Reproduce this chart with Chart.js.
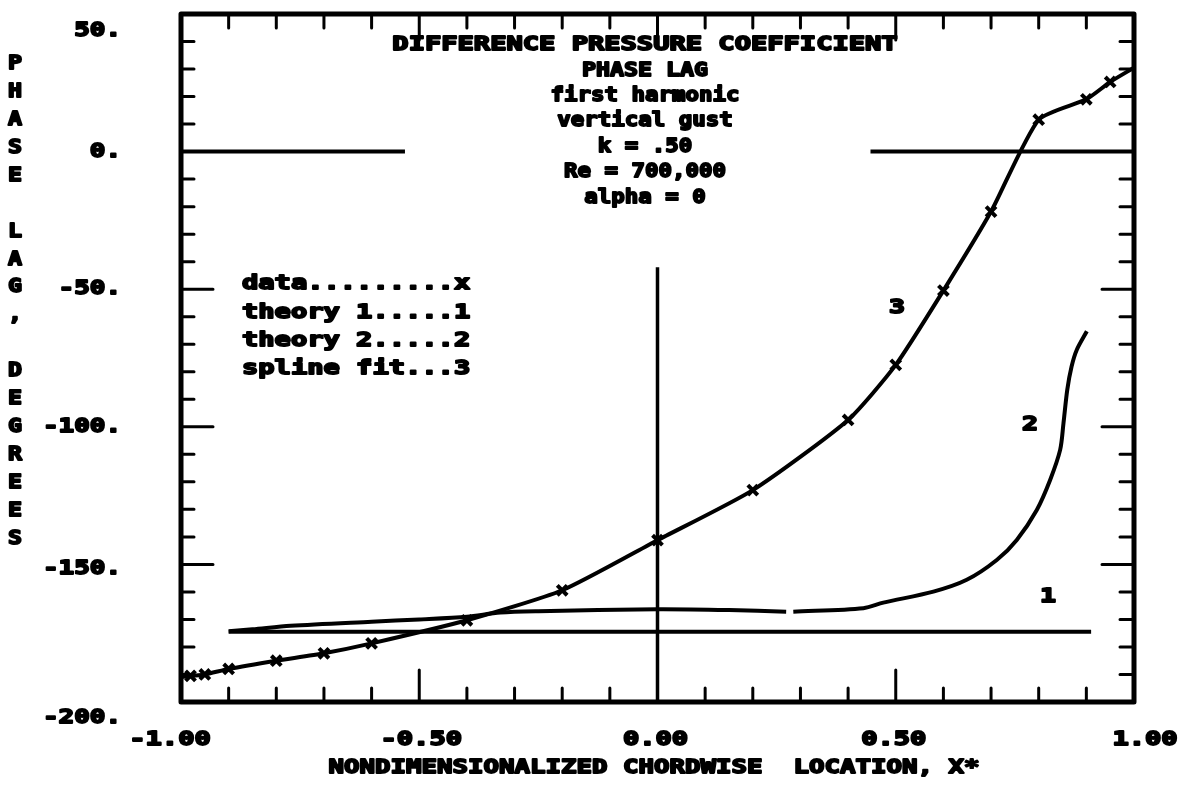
<!DOCTYPE html>
<html>
<head>
<meta charset="utf-8">
<script src="https://cdn.jsdelivr.net/npm/chart.js@4.4.0/dist/chart.umd.min.js"></script>
<style>
  html, body { margin: 0; padding: 0; background: #fff; }
</style>
</head>
<body>
<canvas id="c" width="1183" height="786"></canvas>
<script>
// measured phase lag, degrees, at chordwise stations
const dataX = [-0.98, -0.95, -0.90, -0.80, -0.70, -0.60, -0.40, -0.20, 0.00, 0.20, 0.40, 0.50, 0.60, 0.70, 0.80, 0.90, 0.95];
const dataY = [-190.5, -190.0, -188.0, -185.0, -182.3, -178.7, -170.3, -159.4, -141.2, -123.0, -97.5, -77.5, -50.5, -21.8, 11.6, 19.0, 25.3];

// spline fit, edge to edge
const splineX = [-1.00, -0.98, -0.95, -0.90, -0.80, -0.70, -0.60, -0.40, -0.20, 0.00, 0.20, 0.40, 0.50, 0.60, 0.70, 0.80, 0.90, 0.95, 1.00];
const splineY = [-191.0, -190.5, -190.0, -188.0, -185.0, -182.3, -178.7, -170.3, -159.4, -141.2, -123.0, -97.5, -77.5, -50.5, -21.8, 11.6, 19.0, 25.3, 30.5];

// theory 1: flat
const theory1X = [-0.90, 0.91];
const theory1Y = [-174.5, -174.5];

// theory 2 (pen lifted briefly near x = .28)
const theory2X = [-0.90, -0.85, -0.77, -0.60, -0.50, -0.40, -0.33, -0.25, 0.00, 0.15, 0.27, 0.278, 0.285, 0.432, 0.474, 0.579, 0.649, 0.712, 0.754, 0.796, 0.824, 0.845, 0.852, 0.860, 0.869, 0.880, 0.901];
const theory2Y = [-174.3, -173.6, -172.3, -170.8, -170.0, -169.0, -167.5, -167.0, -166.3, -166.6, -167.2, null, -167.2, -165.9, -163.9, -159.9, -155.6, -148.4, -141.1, -130.2, -119.3, -108.4, -98.7, -86.5, -78.1, -72.0, -65.3];

// reference lines: y = 0 (broken under the title) and x = 0
const zeroX = [-1.00, -0.53, 0.00, 0.447, 1.00];
const zeroY = [0, 0, null, 0, 0];
const chordX = [0.00, 0.00];
const chordY = [-200, -42];

const xTicks = [-1.0, -0.5, 0.0, 0.5, 1.0];
const xTickLabels = ["-1.00", "-0.50", "0.00", "0.50", "1.00"];
const yTicks = [50, 0, -50, -100, -150, -200];
const yTickLabels = ["50.", "0.", "-50.", "-100.", "-150.", "-200."];

const titleLines = ["DIFFERENCE PRESSURE COEFFICIENT", "PHASE LAG", "first harmonic", "vertical gust", "k = .50", "Re = 700,000", "alpha = 0"];
const legendLines = ["data.........x", "theory 1.....1", "theory 2.....2", "spline fit...3"];
const yTitle = "PHASE LAG, DEGREES";
const xTitle = "NONDIMENSIONALIZED CHORDWISE  LOCATION, X*";

const pts = (xs, ys) => xs.map((x, i) => ({ x, y: ys[i] }));
const INK = "#000";

// stretched bold mono text, like the plotter lettering
function plotText(ctx, str, x, y, adv, align) {
  ctx.save();
  ctx.font = 'bold 20px "DejaVu Sans Mono"';
  const sx = adv / ctx.measureText("M").width;
  const w = str.length * adv;
  const left = align === "center" ? x - w / 2 : align === "right" ? x - w : x;
  ctx.translate(left, y);
  ctx.scale(sx, 1);
  ctx.textAlign = "left";
  ctx.textBaseline = "middle";
  ctx.fillStyle = INK;
  ctx.strokeStyle = INK;
  ctx.lineWidth = 1.8;
  ctx.lineJoin = "round";
  ctx.fillText(str, 0, 0);
  ctx.strokeText(str, 0, 0);
  ctx.restore();
}

const frame = {
  id: "frame",
  afterDatasetsDraw(chart) {
    const { ctx, chartArea: a, scales } = chart;
    const xs = scales.x, ys = scales.y;
    ctx.save();
    ctx.strokeStyle = INK;
    ctx.lineCap = "round";
    ctx.lineJoin = "round";

    // ticks, pointing inward
    ctx.lineWidth = 3;
    ctx.beginPath();
    for (let i = -9; i <= 9; i++) {
      const px = xs.getPixelForValue(i / 10);
      const major = i % 5 === 0;
      ctx.moveTo(px, a.bottom); ctx.lineTo(px, a.bottom - (major ? 32 : 14));
      ctx.moveTo(px, a.top); ctx.lineTo(px, a.top + (major ? 26 : 14));
    }
    for (let v = -190; v <= 40; v += 10) {
      const py = ys.getPixelForValue(v);
      const major = v % 50 === 0;
      ctx.moveTo(a.left, py); ctx.lineTo(a.left + (major ? 32 : 13), py);
      ctx.moveTo(a.right, py); ctx.lineTo(a.right - (major ? 32 : 14), py);
    }
    ctx.stroke();

    // border
    ctx.lineWidth = 5;
    ctx.strokeRect(a.left, a.top, a.right - a.left, a.bottom - a.top);
    ctx.restore();

    // tick labels
    const yNudge = [17, 0, 0, 0, 4, 16];
    yTicks.forEach((v, i) => plotText(ctx, yTickLabels[i], 121, ys.getPixelForValue(v) + yNudge[i], 15.6, "right"));
    const xNudge = [-11, 2, -2, -2, 11];
    xTicks.forEach((v, i) => plotText(ctx, xTickLabels[i], xs.getPixelForValue(v) + xNudge[i], 740, 16.3, "center"));

    // axis titles
    plotText(ctx, xTitle, 654, 768, 15.5, "center");
    [...yTitle].forEach((ch, i) => plotText(ctx, ch, 15, 64 + i * 27.9, 14, "center"));

    // title block
    const titleY = [45, 71, 96, 121, 147, 172, 198];
    const titleAdv = [16.3, 14, 13.5, 13.5, 13.5, 13.5, 13.5];
    titleLines.forEach((s, i) => plotText(ctx, s, 645, titleY[i], titleAdv[i], "center"));

    // legend
    legendLines.forEach((s, i) => plotText(ctx, s, 242, 284 + i * 28.4, 16.3, "left"));

    // curve numbers
    plotText(ctx, "3", 897, 308, 16, "center");
    plotText(ctx, "2", 1030, 425, 16, "center");
    plotText(ctx, "1", 1048, 597, 16, "center");
  }
};

const lineStyle = { borderColor: INK, borderWidth: 4, pointRadius: 0, fill: false, spanGaps: false, tension: 0 };

new Chart(document.getElementById("c"), {
  type: "line",
  data: {
    datasets: [
      { ...lineStyle, data: pts(zeroX, zeroY) },
      { ...lineStyle, data: pts(chordX, chordY), borderWidth: 3.5 },
      { ...lineStyle, data: pts(theory1X, theory1Y) },
      { ...lineStyle, data: pts(theory2X, theory2Y), tension: 0.3 },
      { ...lineStyle, data: pts(splineX, splineY), tension: 0.2 },
      {
        data: pts(dataX, dataY),
        showLine: false,
        pointStyle: "crossRot",
        pointRadius: 7,
        pointBorderWidth: 4,
        pointBorderColor: INK,
        borderColor: INK,
      },
    ],
  },
  options: {
    responsive: false,
    animation: false,
    devicePixelRatio: 1,
    layout: { padding: { left: 181, top: 14, right: 49, bottom: 84 } },
    plugins: { legend: { display: false }, tooltip: { enabled: false } },
    scales: {
      x: { type: "linear", min: -1, max: 1, display: false },
      y: { type: "linear", min: -200, max: 50, display: false },
    },
  },
  plugins: [frame],
});
</script>
</body>
</html>
